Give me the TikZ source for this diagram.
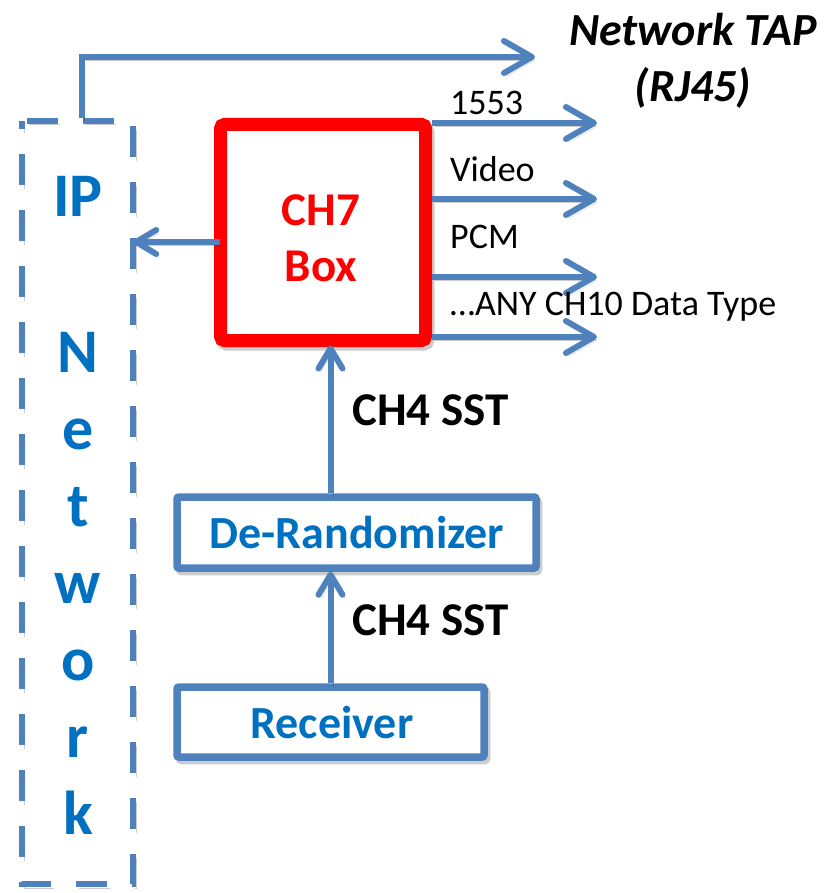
\documentclass[tikz,border=0pt]{standalone}
\usepackage{fontspec}
\setmainfont{Carlito}
\usetikzlibrary{arrows.meta}

\definecolor{lineblue}{HTML}{4F81BD}
\definecolor{textblue}{HTML}{0070C0}
\definecolor{boxred}{HTML}{FF0000}

\tikzset{
  softshadow/.style={preaction={draw=black, opacity=0.2,
      transform canvas={shift={(2.5pt,-3.5pt)}}}},
  framedash/.style={dash pattern=on 31pt off 25pt, dash phase=51pt},
  flow/.style={draw=lineblue, line width=6pt, softshadow},
  bigtip/.style={-{Straight Barb[length=28pt,width=32pt,round]}},
  smalltip/.style={-{Straight Barb[length=20pt,width=24pt,round]}},
  stagebox/.style={draw=lineblue, line width=7.5pt, fill=white, rounded corners=2pt,
      inner sep=0pt, softshadow},
  chbox/.style={draw=boxred, line width=13pt, fill=white, rounded corners=4pt,
      inner sep=0pt, softshadow},
  stagetext/.style={text=textblue, font=\bfseries\fontsize{46}{56}\selectfont, inner sep=0pt},
  iptext/.style={text=textblue, font=\bfseries\fontsize{62}{70}\selectfont, inner sep=0pt, anchor=base},
  sigtext/.style={font=\fontsize{36}{44}\selectfont, inner sep=0pt, anchor=base west},
  ssttext/.style={font=\bfseries\fontsize{47}{56}\selectfont, inner sep=0pt, anchor=base west},
  taptext/.style={font=\bfseries\itshape\fontsize{46}{56}\selectfont, inner sep=0pt, anchor=base},
}

\begin{document}
\begin{tikzpicture}[x=1pt, y=-1pt]
\useasboundingbox (0,0) rectangle (827,893);

% IP network frame: dashed outline with a dashed shadow of its own
\node[minimum width=111pt, minimum height=763pt, inner sep=0pt] (ip) at (77.5,502.5) {};
\draw[draw=lineblue, line width=6.5pt, framedash,
      preaction={draw=black, opacity=0.2, framedash, transform canvas={shift={(2.5pt,-3.5pt)}}}]
  (ip.north west) -- (ip.north east) -- (ip.south east) -- (ip.south west) -- cycle;

% vertical "IP Network" lettering
\foreach \ch/\yy [count=\i] in {IP/217, N/372, e/449, t/526, w/603, o/680, r/757, k/834}
  \node[iptext] (ipl\i) at (78,\yy) {\ch};

% processing chain
\node[stagebox, minimum width=307pt, minimum height=70pt] (recv) at (330.5,722) {};
\node[stagetext] (recvlabel) at (332,723) {Receiver};
\node[stagebox, minimum width=359pt, minimum height=71pt] (derand) at (356.5,532.5) {};
\node[stagetext] (derandlabel) at (357,533) {De-Randomizer};

% output connectors of the CH7 box (drawn first, box covers their start)
\coordinate (o1) at (597,123);
\coordinate (o2) at (597,199);
\coordinate (o3) at (597,277);
\coordinate (o4) at (597,337);
\coordinate (ipin) at (220,242);

\node[chbox, minimum width=205pt, minimum height=216pt] (ch7) at (323,232.5) {};

\foreach \o in {o1,o2,o3,o4}
  \draw[flow, bigtip] (\o -| ch7.east) -- (\o);
\draw[flow, smalltip] (ipin) -- (ipin -| ip.east);

\node[text=boxred, font=\bfseries\fontsize{47}{56}\selectfont, align=center, inner sep=0pt]
  (ch7label) at (321,238) {CH7\\Box};

% upward SST links
\draw[flow, smalltip] (recv.north) -- (derand.south -| recv.north);
\draw[flow, smalltip] (derand.north -| recv.north) -- ([yshift=1.5pt]ch7.south -| recv.north);

\node[ssttext] (sst1) at (352,425) {CH4 SST};
\node[ssttext] (sst2) at (352,635) {CH4 SST};

% output labels
\node[sigtext] (s1) at (450,115) {1553};
\node[sigtext] (s2) at (450,182) {Video};
\node[sigtext] (s3) at (450,248) {PCM};
\node[sigtext] (s4) at (450,315) {…ANY CH10 Data Type};

% network tap
\coordinate (tap) at (535,57);
\draw[flow, bigtip, shorten <=3pt] ([xshift=4.5pt]ip.north) |- (tap);
\node[taptext] (tap1) at (693,46) {Network TAP};
\node[taptext] (tap2) at (693,102) {(RJ45)};
\end{tikzpicture}
\end{document}
